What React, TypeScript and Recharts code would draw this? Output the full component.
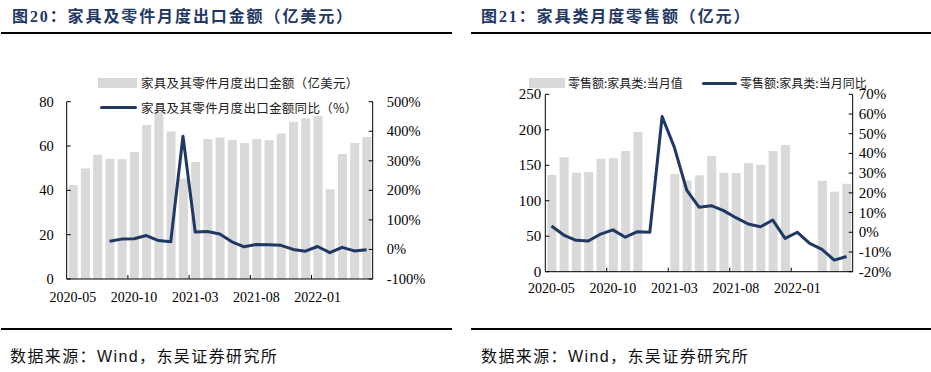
import React from "react";
import { ComposedChart, Bar, Line, XAxis, YAxis, Legend } from "recharts";

// ---------- data ----------
const months = [
  "2020-05", "2020-06", "2020-07", "2020-08", "2020-09", "2020-10", "2020-11", "2020-12",
  "2021-01", "2021-02", "2021-03", "2021-04", "2021-05", "2021-06", "2021-07", "2021-08",
  "2021-09", "2021-10", "2021-11", "2021-12", "2022-01", "2022-02", "2022-03", "2022-04", "2022-05",
];

// 图20
const exportValue = [
  42.4, 49.9, 56.1, 54.3, 54.0, 57.3, 69.5, 75.5, 66.5, 45.4, 52.8, 63.2, 63.9,
  62.7, 61.4, 63.2, 62.6, 65.7, 71.0, 72.5, 73.5, 40.5, 56.4, 61.4, 64.1,
];
const exportYoy: (number | null)[] = [
  null, null, null, 28, 35, 36, 47, 30, 26, 383, 59, 61, 52,
  26, 9, 17, 16, 14, 0, -6, 10, -11, 7, -5, -1,
];

// 图21
const retailValue: (number | null)[] = [
  136.3, 161.2, 139.6, 140.5, 159.3, 159.8, 170.1, 196.9, null, null, 137.7, 128.5, 135.8,
  163.0, 139.6, 139.1, 153.2, 150.8, 170.1, 178.6, null, null, 128.3, 112.8, 124.1,
];
const retailYoy = [
  3.2, -1.4, -4.1, -4.4, -0.9, 1.2, -2.5, 0.3, 0.0, 58.7, 43.0, 21.4, 12.7,
  13.5, 11.0, 7.4, 4.2, 2.8, 6.2, -3.1, 0.0, -5.6, -8.7, -14.1, -12.3,
];

const leftTicksA = [0, 20, 40, 60, 80];
const rightTicksA = [-100, 0, 100, 200, 300, 400, 500];
const leftTicksB = [0, 50, 100, 150, 200, 250];
const rightTicksB = [-20, -10, 0, 10, 20, 30, 40, 50, 60, 70];
const labelEvery = 5;

const legendA = ["家具及其零件月度出口金额（亿美元）", "家具及其零件月度出口金额同比（%）"];
const legendB = ["零售额:家具类:当月值", "零售额:家具类:当月同比"];

const dataA = months.map((m, i) => ({ m, v: exportValue[i], y: exportYoy[i] }));
const dataB = months.map((m, i) => ({ m, v: retailValue[i], y: retailYoy[i] }));

// ---------- styles ----------
const BAR = "#D9D9D9";
const LINE = "#1F3864";
const AXIS = "#000";
const SERIF = "'Liberation Serif', 'Times New Roman', serif";
const CJK = "'Noto Sans CJK SC', sans-serif";

const LeftTick = (fs: number, gap: number) => (p: any) => (
  <g>
    <line x1={p.x} x2={p.x + 4} y1={p.y} y2={p.y} stroke={AXIS} strokeWidth={1} />
    <text x={p.x - gap} y={p.y} textAnchor="end" dominantBaseline="central"
      fontFamily={SERIF} fontSize={fs} fill="#000">{p.payload.value}</text>
  </g>
);
const RightTick = (fs: number, gap: number) => (p: any) => (
  <g>
    <line x1={p.x - 4} x2={p.x} y1={p.y} y2={p.y} stroke={AXIS} strokeWidth={1} />
    <text x={p.x + gap} y={p.y} textAnchor="start" dominantBaseline="central"
      fontFamily={SERIF} fontSize={fs} fill="#000">{`${p.payload.value}%`}</text>
  </g>
);
const BottomTick = (bw: number, off: number) => (p: any) => {
  const i = p.index;
  if (i % labelEvery !== 0) return <g />;
  return (
    <g>
      {i > 0 && <line x1={p.x - bw / 2} x2={p.x - bw / 2} y1={p.y} y2={p.y - 4} stroke={AXIS} strokeWidth={1} />}
      <text x={p.x} y={p.y + off} textAnchor="middle" dominantBaseline="central"
        fontFamily={SERIF} fontSize={14} fill="#000">{p.payload.value}</text>
    </g>
  );
};

const legendText: React.CSSProperties = {
  position: "absolute",
  fontFamily: CJK,
  color: "#222",
  whiteSpace: "nowrap",
  lineHeight: "14px",
};

const LegendA = () => (
  <div style={{ position: "relative", width: 465, height: 0 }}>
    <div style={{ position: "absolute", left: 98, top: 78, width: 39, height: 10, background: BAR }} />
    <div style={{ ...legendText, left: 141, top: 76, fontSize: 12.5, letterSpacing: 0.3 }}>{legendA[0]}</div>
    <div style={{ position: "absolute", left: 100, top: 106, width: 37, height: 3, background: LINE, borderRadius: 2 }} />
    <div style={{ ...legendText, left: 141, top: 100.5, fontSize: 12.5, letterSpacing: 0.3 }}>{legendA[1]}</div>
  </div>
);
const LegendB = () => (
  <div style={{ position: "relative", width: 466, height: 0 }}>
    <div style={{ position: "absolute", left: 64, top: 78, width: 36, height: 10, background: BAR }} />
    <div style={{ ...legendText, left: 103, top: 76, fontSize: 12 }}>{legendB[0]}</div>
    <div style={{ position: "absolute", left: 237, top: 81.5, width: 35, height: 3, background: LINE, borderRadius: 2 }} />
    <div style={{ ...legendText, left: 275, top: 76, fontSize: 12 }}>{legendB[1]}</div>
  </div>
);

const title: React.CSSProperties = {
  position: "absolute",
  top: 7,
  fontFamily: `'Liberation Serif', ${CJK}`,
  fontWeight: 700,
  fontSize: 16,
  letterSpacing: 1.9,
  color: "#1F3864",
  whiteSpace: "nowrap",
  lineHeight: "20px",
};
const rule = (left: number, top: number, width: number): React.CSSProperties => ({
  position: "absolute", left, top, width, height: 2, background: "#000",
});
const source: React.CSSProperties = {
  position: "absolute",
  top: 347,
  fontFamily: `'Liberation Sans', ${CJK}`,
  fontSize: 16,
  letterSpacing: 1.4,
  color: "#111",
  whiteSpace: "nowrap",
  lineHeight: "20px",
};

export default function App() {
  return (
    <div style={{ position: "absolute", left: 0, top: 0, width: 931, height: 372, background: "#fff", overflow: "hidden" }}>
      <div style={{ ...title, left: 12 }}>图20：家具及零件月度出口金额（亿美元）</div>
      <div style={{ ...title, left: 481 }}>图21：家具类月度零售额（亿元）</div>
      <div style={rule(1, 32, 451)} />
      <div style={rule(471, 32, 460)} />
      <div style={rule(1, 328, 451)} />
      <div style={rule(471, 328, 460)} />
      <div style={{ ...source, left: 10 }}>数据来源：Wind，东吴证券研究所</div>
      <div style={{ ...source, left: 481 }}>数据来源：Wind，东吴证券研究所</div>

      <div style={{ position: "absolute", left: 0, top: 0 }}>
        <ComposedChart width={465} height={320} data={dataA}
          margin={{ top: 101.7, right: 42.3, bottom: 11, left: 26.7 }}>
          <XAxis dataKey="m" interval={0} tickLine={false} tickSize={0} tickMargin={0} height={30}
            axisLine={{ stroke: AXIS }} tick={BottomTick(306 / 25, 18)} />
          <YAxis yAxisId="l" orientation="left" width={40} domain={[0, 80]} ticks={leftTicksA}
            interval={0} tickLine={false} tickSize={0} tickMargin={0}
            axisLine={{ stroke: AXIS }} tick={LeftTick(14.5, 13)} />
          <YAxis yAxisId="r" orientation="right" width={50} domain={[-100, 500]} ticks={rightTicksA}
            interval={0} tickLine={false} tickSize={0} tickMargin={0}
            axisLine={{ stroke: AXIS }} tick={RightTick(14.5, 14)} />
          <Bar yAxisId="l" dataKey="v" fill={BAR} barSize={9} isAnimationActive={false} />
          <Line yAxisId="r" dataKey="y" stroke={LINE} strokeWidth={3} dot={false}
            type="linear" strokeLinejoin="round" isAnimationActive={false} />
          <Legend layout="horizontal" verticalAlign="middle" align="center"
            wrapperStyle={{ left: 0, top: 0, width: 465, height: 0 }} content={() => <LegendA />} />
        </ComposedChart>
      </div>

      <div style={{ position: "absolute", left: 465, top: 0 }}>
        <ComposedChart width={466} height={320} data={dataB}
          margin={{ top: 94.3, right: 28.3, bottom: 18.3, left: 40.3 }}>
          <XAxis dataKey="m" interval={0} tickLine={false} tickSize={0} tickMargin={0} height={30}
            axisLine={{ stroke: AXIS }} tick={BottomTick(307.4 / 25, 17)} />
          <YAxis yAxisId="l" orientation="left" width={40} domain={[0, 250]} ticks={leftTicksB}
            interval={0} tickLine={false} tickSize={0} tickMargin={0}
            axisLine={{ stroke: AXIS }} tick={LeftTick(15, 4)} />
          <YAxis yAxisId="r" orientation="right" width={50} domain={[-20, 70]} ticks={rightTicksB}
            interval={0} tickLine={false} tickSize={0} tickMargin={0}
            axisLine={{ stroke: AXIS }} tick={RightTick(15, 6)} />
          <Bar yAxisId="l" dataKey="v" fill={BAR} barSize={9} isAnimationActive={false} />
          <Line yAxisId="r" dataKey="y" stroke={LINE} strokeWidth={3} dot={false}
            type="linear" strokeLinejoin="round" isAnimationActive={false} />
          <Legend layout="horizontal" verticalAlign="middle" align="center"
            wrapperStyle={{ left: 0, top: 0, width: 466, height: 0 }} content={() => <LegendB />} />
        </ComposedChart>
      </div>
    </div>
  );
}
